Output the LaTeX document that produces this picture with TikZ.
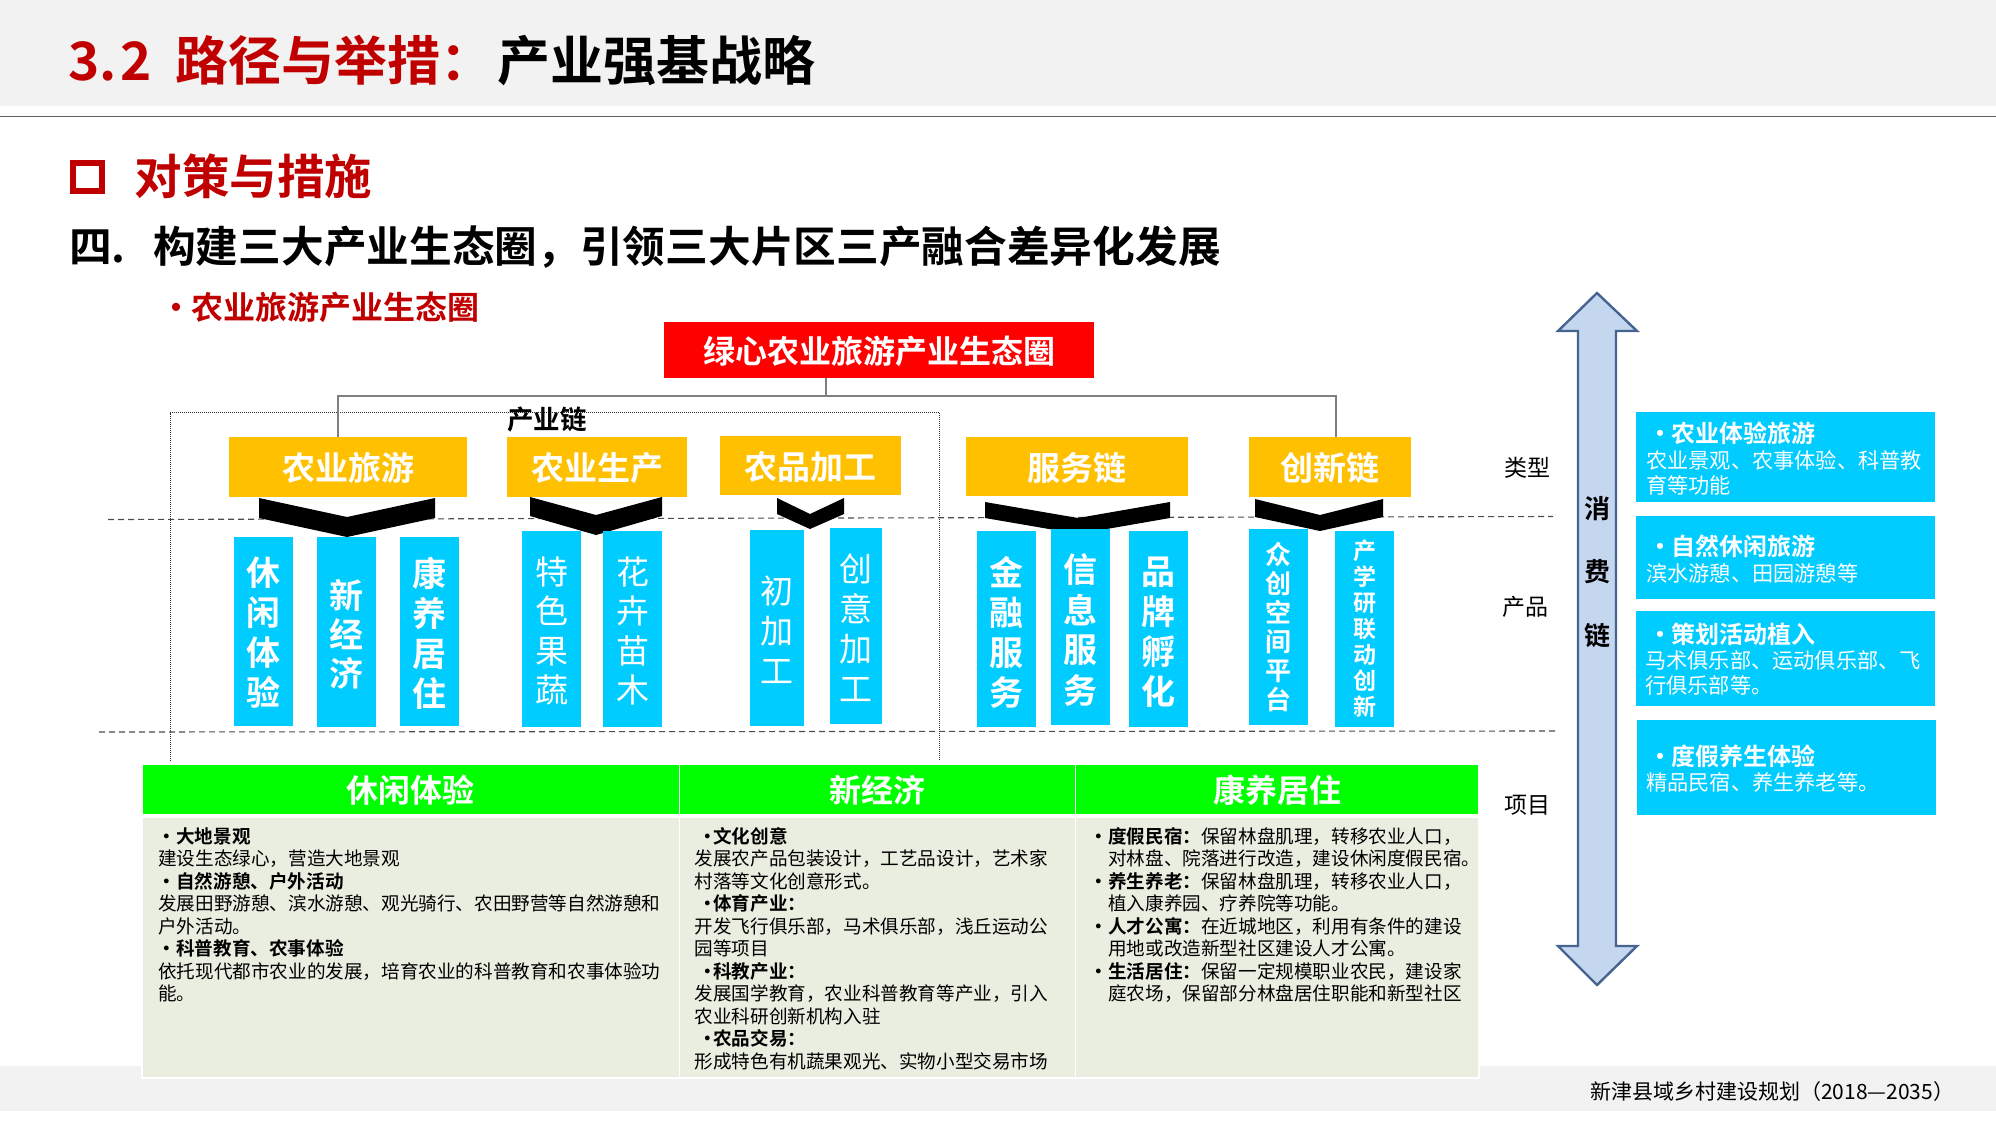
\documentclass[tikz,border=0pt]{standalone}
\usepackage{fontspec}
\setmainfont{Noto Sans CJK SC}[BoldFont={Noto Sans CJK SC Bold}]
\definecolor{brickred}{HTML}{C00000}
\definecolor{bandgrey}{HTML}{F2F2F2}
\definecolor{amber}{HTML}{FFC000}
\definecolor{skyb}{HTML}{00CCFF}
\definecolor{limeg}{HTML}{00FF00}
\definecolor{paleg}{HTML}{EAEEE0}
\definecolor{arrowfill}{HTML}{C5D6EF}
\definecolor{arrowline}{HTML}{45648F}
\definecolor{rulegrey}{HTML}{7F7F7F}
\newcount\tlc
% \tl[opts]{x}{ycentre}{size}{text}
\newcommand{\tl}[5][]{\global\advance\tlc by 1
  \node[name=tl\the\tlc,anchor=base west,inner sep=0pt,font=\fontsize{#4}{#4}\selectfont,#1] at (#2,{#3+0.36*#4}) {#5};}
% \bx[opts]{name}{x1}{y1}{x2}{y2}{text}
\newcommand{\bx}[7][]{\node[name=#2,inner sep=0pt,outer sep=0pt,minimum width={(#5-#3)*1pt},minimum height={(#6-#4)*1pt},#1] at ({(#3+#5)/2},{(#4+#6)/2}) {\raisebox{-0.42em}[0pt][0pt]{#7}};}
% \vbx[font]{name}{x1}{y1}{x2}{y2}{ytext}{lines}
\newcommand{\vbx}[8][]{\bx[blueb]{#2}{#3}{#4}{#5}{#6}{}%
  \node[name=#2t,inner sep=0pt,align=center,text=white,#1] at ({(#3+#5)/2},#7) {#8};}
\tikzset{
  blueb/.style={fill=skyb},
  amberb/.style={fill=amber,text=white,font=\fontsize{33}{33}\selectfont\bfseries},
  conn/.style={draw=rulegrey,line width=1.2pt},
  dashrule/.style={draw=black!70,line width=1.1pt,dash pattern=on 6pt off 4pt},
  dotrule/.style={draw=black!80,line width=.8pt,dash pattern=on 1pt off 1pt},
  chev/.style={fill=black},
  headb/.style={fill=limeg,text=white,font=\fontsize{32}{32}\selectfont\bfseries},
  bodyb/.style={fill=paleg},
  whitet/.style={text=white},
  redt/.style={text=brickred}
}
\begin{document}
\begin{tikzpicture}[x=1pt,y=-1pt]
\useasboundingbox (0,0) rectangle (1996,1122);
% bands
\fill[bandgrey] (0,0) rectangle (1996,106);
\fill[bandgrey] (0,1066) rectangle (1996,1111);
\draw[black!62,line width=1.6pt] (0,116.5) -- (1996,116.5);
% title
\tl[redt,font=\fontsize{53}{53}\selectfont\bfseries]{68}{61}{53}{3.\hspace{4pt}2}
\tl[redt,font=\fontsize{53}{53}\selectfont\bfseries]{175}{61}{53}{路径与举措：}
\tl[font=\fontsize{53}{53}\selectfont\bfseries]{497}{61}{53}{产业强基战略}
% heading
\draw[brickred,line width=6pt] (73,163) rectangle (102,191);
\tl[redt,font=\fontsize{47.5}{47.5}\selectfont\bfseries]{134.5}{177}{47.5}{对策与措施}
\tl[font=\fontsize{42.7}{42.7}\selectfont\bfseries]{69}{247}{42.7}{四.}
\tl[font=\fontsize{42.7}{42.7}\selectfont\bfseries]{153}{247}{42.7}{构建三大产业生态圈，引领三大片区三产融合差异化发展}
\tl[redt,font=\fontsize{32}{32}\selectfont\bfseries]{160}{308}{32}{·}
\tl[redt,font=\fontsize{32}{32}\selectfont\bfseries]{191}{308}{32}{农业旅游产业生态圈}
% dashed and dotted rules
\coordinate (dashAl) at (108,519.5); \coordinate (dashAr) at (1553,516.5);
\coordinate (dashBl) at (99,732); \coordinate (dashBr) at (1557,731);
\draw[dashrule] (dashAl) -- (dashAr);
\draw[dashrule] (dashBl) -- (dashBr);
\coordinate (dotA) at (170,761); \coordinate (dotB) at (170,412.5);
\coordinate (dotC) at (939,412.5); \coordinate (dotD) at (939,761);
\draw[dotrule] (dotA) -- (dotB) -- (dotC) -- (dotD);
% root and chains
\bx[fill=red,text=white,font=\fontsize{32}{32}\selectfont\bfseries]{root}{664}{322}{1094}{378}{绿心农业旅游产业生态圈}
\bx[amberb]{ly}{229}{437}{467}{497}{农业旅游}
\bx[amberb]{sc}{507}{437}{687}{497}{农业生产}
\bx[amberb]{jg}{720}{436}{901}{495}{农品加工}
\bx[amberb]{fw}{966}{437}{1188}{496}{服务链}
\bx[amberb]{cx}{1249}{437}{1411}{497}{创新链}
\coordinate (rootdrop) at (826,378);
\coordinate (trunk) at (826,396);
\coordinate (lydrop) at (338,437);
\coordinate (cxdrop) at (1336,437);
\draw[conn] (rootdrop) -- (trunk);
\draw[conn] (lydrop) |- (trunk);
\draw[conn] (cxdrop) |- (trunk);
\tl[font=\fontsize{26.5}{26.5}\selectfont\bfseries]{507}{420}{26.5}{产业链}
% chevrons
\fill[chev] (259,498) -- (347,517) -- (435,498) -- (435,518) -- (347,537) -- (259,518) -- cycle;
\fill[chev] (530,497) -- (596,515) -- (662,497) -- (662,516) -- (596,535) -- (530,516) -- cycle;
\fill[chev] (777,498) -- (810,514) -- (844,498) -- (844,514) -- (810,529) -- (777,514) -- cycle;
\fill[chev] (985,502) -- (1078,518) -- (1170,502) -- (1170,518) -- (1078,534) -- (985,518) -- cycle;
\fill[chev] (1255,499) -- (1320,515) -- (1383,499) -- (1383,517) -- (1320,531) -- (1255,517) -- cycle;
% product columns
\vbx[font=\fontsize{34}{40}\selectfont\bfseries]{pa}{234}{537}{293}{726}{633}{休\\闲\\体\\验}
\vbx[font=\fontsize{34}{39}\selectfont\bfseries]{pb}{317}{537}{376}{727}{634}{新\\经\\济}
\vbx[font=\fontsize{34}{40}\selectfont\bfseries]{pc}{400}{537}{459}{726}{633}{康\\养\\居\\住}
\vbx[font=\fontsize{33}{39.3}\selectfont]{pd}{522}{531}{581}{727}{631}{特\\色\\果\\蔬}
\vbx[font=\fontsize{33}{39.3}\selectfont]{pe}{603}{531}{662}{727}{631}{花\\卉\\苗\\木}
\vbx[font=\fontsize{33}{40}\selectfont]{pf}{750}{530}{804}{726}{630}{初\\加\\工}
\vbx[font=\fontsize{33}{40}\selectfont]{pg}{830}{528}{882}{724}{628}{创\\意\\加\\工}
\vbx[font=\fontsize{34}{40}\selectfont\bfseries]{ph}{977}{531}{1036}{727}{632}{金\\融\\服\\务}
\vbx[font=\fontsize{34}{40}\selectfont\bfseries]{pi}{1051}{529}{1110}{725}{630}{信\\息\\服\\务}
\vbx[font=\fontsize{34}{40}\selectfont\bfseries]{pj}{1129}{531}{1188}{727}{632}{品\\牌\\孵\\化}
\vbx[font=\fontsize{26}{29}\selectfont\bfseries]{pk}{1249}{529}{1308}{725}{627}{众\\创\\空\\间\\平\\台}
\vbx[font=\fontsize{23}{26}\selectfont\bfseries]{pl}{1335}{531}{1394}{727}{629}{产\\学\\研\\联\\动\\创\\新}
% side labels
\tl{1504}{468}{23}{类型}
\tl{1502}{607.5}{23}{产品}
\tl{1504}{805}{23}{项目}
% double arrow
\draw[fill=arrowfill,draw=arrowline,line width=2.4pt,line join=miter]
  (1597,293) -- (1637,331) -- (1616,331) -- (1616,946) -- (1637,946) -- (1597,985)
  -- (1558,946) -- (1578,946) -- (1578,331) -- (1558,331) -- cycle;
\node[name=xfl,inner sep=0pt,align=center,font=\fontsize{26}{63.5}\selectfont\bfseries] at (1597,572) {消\\费\\链};
% right boxes
\bx[blueb]{ra}{1636}{412}{1935}{502}{}
\bx[blueb]{rb}{1636}{516}{1935}{599}{}
\bx[blueb]{rc}{1636}{611}{1935}{706}{}
\bx[blueb]{rd}{1637}{720}{1936}{815}{}
\tl[whitet,font=\fontsize{24}{24}\selectfont\bfseries]{1648}{433.5}{24}{·}
\tl[whitet,font=\fontsize{24}{24}\selectfont\bfseries]{1671}{433.5}{24}{农业体验旅游}
\tl[whitet]{1646}{461}{21.2}{农业景观、农事体验、科普教}
\tl[whitet]{1646}{486}{21.2}{育等功能}
\tl[whitet,font=\fontsize{24}{24}\selectfont\bfseries]{1648}{547}{24}{·}
\tl[whitet,font=\fontsize{24}{24}\selectfont\bfseries]{1671}{547}{24}{自然休闲旅游}
\tl[whitet]{1646}{573.5}{21.2}{滨水游憩、田园游憩等}
\tl[whitet,font=\fontsize{24}{24}\selectfont\bfseries]{1648}{635}{24}{·}
\tl[whitet,font=\fontsize{24}{24}\selectfont\bfseries]{1671}{635}{24}{策划活动植入}
\tl[whitet]{1645}{661}{21.2}{马术俱乐部、运动俱乐部、飞}
\tl[whitet]{1645}{686}{21.2}{行俱乐部等。}
\tl[whitet,font=\fontsize{24}{24}\selectfont\bfseries]{1648}{757}{24}{·}
\tl[whitet,font=\fontsize{24}{24}\selectfont\bfseries]{1671}{757}{24}{度假养生体验}
\tl[whitet]{1646}{783}{21.2}{精品民宿、养生养老等。}
% table
\fill[white] (141,763) rectangle (1480,1079);
\bx[headb]{ha}{143}{765}{678.5}{814}{休闲体验}
\bx[headb]{hb}{680}{765}{1074.5}{814}{新经济}
\bx[headb]{hc}{1076}{765}{1478}{814}{康养居住}
\bx[bodyb]{ba}{143}{818}{678.5}{1077}{}
\bx[bodyb]{bb}{680}{818}{1074.5}{1077}{}
\bx[bodyb]{bc}{1076}{818}{1478}{1077}{}
% column 1
\newcommand{\bd}{\bfseries}
\tl[font=\fontsize{18.6}{18.6}\selectfont\bfseries]{157}{836.7}{18.6}{•}
\tl[font=\fontsize{18.6}{18.6}\selectfont\bfseries]{176}{836.7}{18.6}{大地景观}
\tl{158}{859.2}{18.6}{建设生态绿心，营造大地景观}
\tl[font=\fontsize{18.6}{18.6}\selectfont\bfseries]{157}{881.7}{18.6}{•}
\tl[font=\fontsize{18.6}{18.6}\selectfont\bfseries]{176}{881.7}{18.6}{自然游憩、户外活动}
\tl{158}{904.2}{18.6}{发展田野游憩、滨水游憩、观光骑行、农田野营等自然游憩和}
\tl{158}{926.7}{18.6}{户外活动。}
\tl[font=\fontsize{18.6}{18.6}\selectfont\bfseries]{157}{949.2}{18.6}{•}
\tl[font=\fontsize{18.6}{18.6}\selectfont\bfseries]{176}{949.2}{18.6}{科普教育、农事体验}
\tl{158}{971.7}{18.6}{依托现代都市农业的发展，培育农业的科普教育和农事体验功}
\tl{158}{994.2}{18.6}{能。}
% column 2
\tl[font=\fontsize{18.6}{18.6}\selectfont\bfseries]{698}{836.7}{18.6}{·}
\tl[font=\fontsize{18.6}{18.6}\selectfont\bfseries]{713}{836.7}{18.6}{文化创意}
\tl{694.5}{859.2}{18.6}{发展农产品包装设计，工艺品设计，艺术家}
\tl{694.5}{881.7}{18.6}{村落等文化创意形式。}
\tl[font=\fontsize{18.6}{18.6}\selectfont\bfseries]{698}{904.2}{18.6}{·}
\tl[font=\fontsize{18.6}{18.6}\selectfont\bfseries]{713}{904.2}{18.6}{体育产业：}
\tl{694.5}{926.7}{18.6}{开发飞行俱乐部，马术俱乐部，浅丘运动公}
\tl{694.5}{949.2}{18.6}{园等项目}
\tl[font=\fontsize{18.6}{18.6}\selectfont\bfseries]{698}{971.7}{18.6}{·}
\tl[font=\fontsize{18.6}{18.6}\selectfont\bfseries]{713}{971.7}{18.6}{科教产业：}
\tl{694.5}{994.2}{18.6}{发展国学教育，农业科普教育等产业，引入}
\tl{694.5}{1016.7}{18.6}{农业科研创新机构入驻}
\tl[font=\fontsize{18.6}{18.6}\selectfont\bfseries]{698}{1039.2}{18.6}{·}
\tl[font=\fontsize{18.6}{18.6}\selectfont\bfseries]{713}{1039.2}{18.6}{农品交易：}
\tl{694.5}{1061.7}{18.6}{形成特色有机蔬果观光、实物小型交易市场}
% column 3
\tl[font=\fontsize{18.6}{18.6}\selectfont\bfseries]{1089}{836.7}{18.6}{•}
\tl{1108}{836.7}{18.6}{\bd 度假民宿：\mdseries 保留林盘肌理，转移农业人口，}
\tl{1108}{859.2}{18.6}{对林盘、院落进行改造，建设休闲度假民宿。}
\tl[font=\fontsize{18.6}{18.6}\selectfont\bfseries]{1089}{881.7}{18.6}{•}
\tl{1108}{881.7}{18.6}{\bd 养生养老：\mdseries 保留林盘肌理，转移农业人口，}
\tl{1108}{904.2}{18.6}{植入康养园、疗养院等功能。}
\tl[font=\fontsize{18.6}{18.6}\selectfont\bfseries]{1089}{926.7}{18.6}{•}
\tl{1108}{926.7}{18.6}{\bd 人才公寓：\mdseries 在近城地区，利用有条件的建设}
\tl{1108}{949.2}{18.6}{用地或改造新型社区建设人才公寓。}
\tl[font=\fontsize{18.6}{18.6}\selectfont\bfseries]{1089}{971.7}{18.6}{•}
\tl{1108}{971.7}{18.6}{\bd 生活居住：\mdseries 保留一定规模职业农民，建设家}
\tl{1108}{994.2}{18.6}{庭农场，保留部分林盘居住职能和新型社区}
% footer
\tl{1590}{1092}{21}{新津县域乡村建设规划（2018—2035）}
\end{tikzpicture}
\end{document}
